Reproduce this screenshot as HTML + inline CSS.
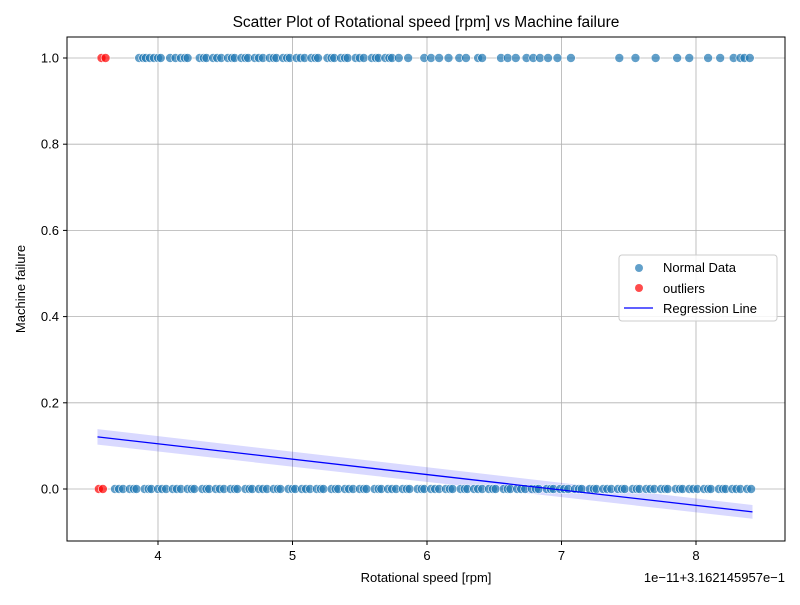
<!DOCTYPE html>
<html><head><meta charset="utf-8"><style>
body{margin:0;background:#fff;}
svg text{font-family:"Liberation Sans","DejaVu Sans",sans-serif;}
</style></head><body>
<svg id="chart" width="800" height="600" xmlns="http://www.w3.org/2000/svg">
<rect width="800" height="600" fill="#fff"/>
<g id="grid"></g>
<g id="band"></g>
<g id="pts"></g>
<g id="reg"></g>
<rect x="67" y="37" width="718" height="504" fill="none" stroke="#000" stroke-width="1"/>
<g id="axes"></g>
<text x="426" y="27" text-anchor="middle" font-size="15.5">Scatter Plot of Rotational speed [rpm] vs Machine failure</text>
<text x="426" y="582" text-anchor="middle" font-size="13">Rotational speed [rpm]</text>
<text x="25" y="289" text-anchor="middle" font-size="13" transform="rotate(-90 25 289)">Machine failure</text>
<text x="785" y="582" text-anchor="end" font-size="13">1e−11+3.162145957e−1</text>
<g>
<rect x="619" y="255" width="158" height="66" rx="3" fill="#fff" fill-opacity="0.85" stroke="#ccc"/>
<circle cx="639" cy="268" r="4" fill="#1f77b4" fill-opacity="0.7"/>
<text x="663" y="272" font-size="13">Normal Data</text>
<circle cx="639" cy="288" r="4" fill="#ff0000" fill-opacity="0.7"/>
<text x="663" y="293" font-size="13">outliers</text>
<line x1="624" y1="308" x2="653" y2="308" stroke="#0000ff" stroke-width="1.2"/>
<text x="663" y="313" font-size="13">Regression Line</text>
</g>
</svg>
<script>
const xTicks=[4,5,6,7,8];
const yTicks=[0.0,0.2,0.4,0.6,0.8,1.0];
const normalTopX=[3.86,3.89,3.91,3.94,3.97,4.00,4.02,4.09,4.13,4.17,4.20,4.22,4.31,4.34,4.36,4.41,4.44,4.47,4.52,4.55,4.57,4.62,4.65,4.67,4.72,4.75,4.78,4.83,4.86,4.88,4.93,4.96,4.98,5.03,5.06,5.09,5.14,5.17,5.19,5.26,5.29,5.31,5.36,5.39,5.41,5.47,5.50,5.53,5.59,5.62,5.64,5.69,5.72,5.74,5.79,5.86,5.98,6.03,6.09,6.16,6.24,6.29,6.38,6.41,6.55,6.60,6.66,6.74,6.79,6.84,6.90,6.97,7.07,7.43,7.55,7.70,7.86,7.95,8.09,8.18,8.28,8.33,8.36,8.40];
const normalBottomX=[3.68,3.71,3.74,3.79,3.82,3.84,3.90,3.93,3.95,4.00,4.03,4.06,4.11,4.14,4.17,4.22,4.25,4.27,4.33,4.36,4.38,4.43,4.46,4.49,4.54,4.57,4.59,4.65,4.68,4.70,4.75,4.78,4.81,4.86,4.89,4.91,4.97,5.00,5.02,5.07,5.10,5.13,5.18,5.21,5.23,5.29,5.32,5.34,5.39,5.42,5.45,5.50,5.53,5.55,5.61,5.64,5.66,5.71,5.74,5.77,5.82,5.85,5.87,5.93,5.96,5.98,6.03,6.06,6.09,6.14,6.17,6.19,6.25,6.28,6.30,6.35,6.38,6.41,6.46,6.49,6.51,6.57,6.60,6.62,6.67,6.70,6.73,6.78,6.81,6.83,6.89,6.92,6.94,6.99,7.02,7.05,7.10,7.13,7.15,7.21,7.24,7.26,7.31,7.34,7.37,7.42,7.45,7.47,7.53,7.56,7.58,7.63,7.66,7.69,7.74,7.77,7.79,7.85,7.88,7.90,7.95,7.98,8.01,8.06,8.09,8.11,8.17,8.20,8.22,8.27,8.30,8.33,8.38,8.41];
const outlierTopX=[3.58,3.61];
const outlierBottomX=[3.56,3.59];
const regX=[3.55,8.42];
const regY=[0.121,-0.053];
const regBand=[0.018,0.016];

const NS="http://www.w3.org/2000/svg";
const X=v=>158+(v-4)*134.5;
const Y=v=>489-v*431;
function mk(tag,attrs,parent){const e=document.createElementNS(NS,tag);for(const k in attrs)e.setAttribute(k,attrs[k]);document.getElementById(parent).appendChild(e);return e;}

xTicks.forEach(t=>{
  const g=mk('line',{x1:X(t),x2:X(t),y1:37,y2:541,stroke:'#b0b0b0','stroke-width':0.8},'grid');
  
  
  mk('line',{x1:X(t),x2:X(t),y1:541,y2:545,stroke:'#000'},'axes');
  const tx=mk('text',{x:X(t),y:560,'text-anchor':'middle','font-size':13},'axes');
  tx.textContent=t;
  
  
});
yTicks.forEach(t=>{
  const g=mk('line',{x1:67,x2:785,y1:Y(t),y2:Y(t),stroke:'#b0b0b0','stroke-width':0.8},'grid');
  
  
  mk('line',{x1:63,x2:67,y1:Y(t),y2:Y(t),stroke:'#000'},'axes');
  const tx=mk('text',{x:59,y:Y(t)+4.5,'text-anchor':'end','font-size':13},'axes');
  tx.textContent=t.toFixed(1);
  
  
});
const bp=`${X(regX[0])},${Y(regY[0]+regBand[0])} ${X(regX[1])},${Y(regY[1]+regBand[1])} ${X(regX[1])},${Y(regY[1]-regBand[1])} ${X(regX[0])},${Y(regY[0]-regBand[0])}`;
const band=mk('polygon',{points:bp,fill:'#0000ff','fill-opacity':0.15},'band');


function pt(x,y,color,name){
  const c=mk('circle',{cx:X(x),cy:Y(y),r:4.5,fill:color,'fill-opacity':0.7,stroke:'#fff','stroke-width':0.6},'pts');
  
  
}
normalTopX.forEach(x=>pt(x,1,'#1f77b4','normal-point'));
normalBottomX.forEach(x=>pt(x,0,'#1f77b4','normal-point'));
outlierTopX.forEach(x=>pt(x,1,'#ff0000','outlier-point'));
outlierBottomX.forEach(x=>pt(x,0,'#ff0000','outlier-point'));
const rl=mk('line',{x1:X(regX[0]),y1:Y(regY[0]),x2:X(regX[1]),y2:Y(regY[1]),stroke:'#0000ff','stroke-width':1.3},'reg');


</script>
</body></html>
